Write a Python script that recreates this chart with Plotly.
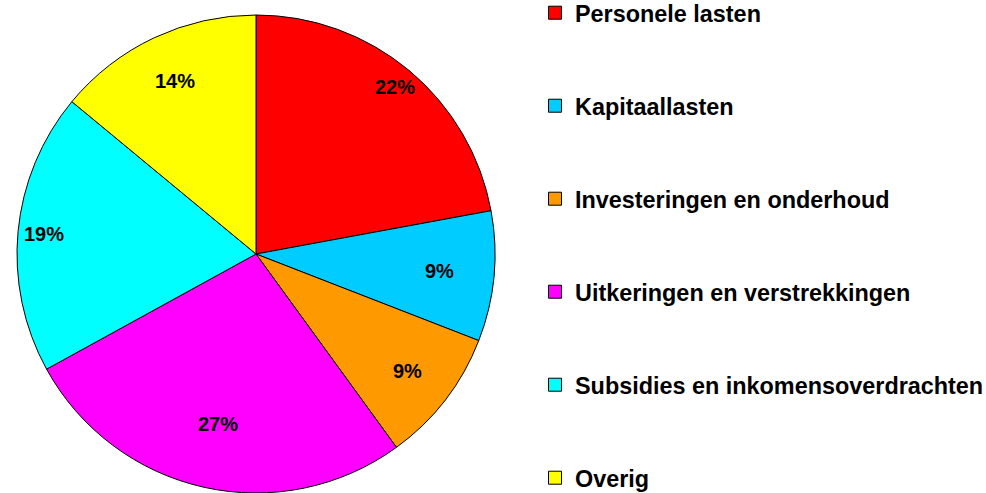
import math
import plotly.graph_objects as go

categories = ["Personele lasten", "Kapitaallasten", "Investeringen en onderhoud",
              "Uitkeringen en verstrekkingen", "Subsidies en inkomensoverdrachten", "Overig"]
values = [22.1, 8.8, 9.1, 27.0, 19.0, 14.0]
colors = ["#FF0000", "#00CCFF", "#FF9900", "#FF00FF", "#00FFFF", "#FFFF00"]

# label distance from centre, as fraction of radius (layout styling, like "best fit")
label_radius = [0.91, 0.77, 0.80, 0.73, 0.89, 0.80]

FONT = "Liberation Sans, Arial, sans-serif"
W, H = 986, 493
dom_x = [0, 512 / W]
dom_y = [0, 478 / H]

fig = go.Figure()
fig.add_trace(go.Pie(
    labels=categories, values=values, sort=False, direction="clockwise", rotation=0,
    marker=dict(colors=colors, line=dict(color="black", width=1)),
    textinfo="none", showlegend=False, domain=dict(x=dom_x, y=dom_y),
    hoverinfo="label+percent", automargin=False,
))

# percentage labels at slice mid-angles
cx = (dom_x[0] + dom_x[1]) / 2 * W
cy_up = (dom_y[0] + dom_y[1]) / 2 * H
rad = min((dom_x[1] - dom_x[0]) * W, (dom_y[1] - dom_y[0]) * H) / 2
total = sum(values)
cum = 0.0
annotations = []
for v, f in zip(values, label_radius):
    mid = (cum + v / 2) / total * 2 * math.pi
    cum += v
    px = cx + rad * f * math.sin(mid)
    py = cy_up + rad * f * math.cos(mid)
    annotations.append(dict(
        x=px / W, y=py / H, xref="paper", yref="paper", showarrow=False,
        text="<b>%d%%</b>" % round(v / total * 100),
        font=dict(family=FONT, size=20, color="black"),
        xanchor="center", yanchor="middle",
    ))

# legend entries, one legend each so they can be spread like the original
legend_layout = {}
n = len(categories)
top_px, bottom_px = 13, 478
for i, (c, col) in enumerate(zip(categories, colors)):
    key = "legend" if i == 0 else "legend%d" % (i + 1)
    fig.add_trace(go.Scatter(
        x=[None], y=[None], mode="markers", name="<b>" + c + "</b>",
        marker=dict(symbol="square", size=13, color=col, line=dict(color="black", width=1)),
        legend=key, showlegend=True, hoverinfo="skip",
    ))
    ypx = top_px + i * (bottom_px - top_px) / (n - 1)
    legend_layout[key] = dict(
        x=535 / W, y=1 - ypx / H, xanchor="left", yanchor="middle",
        font=dict(family=FONT, size=23.4, color="black"),
        itemsizing="trace", bgcolor="rgba(0,0,0,0)", borderwidth=0,
    )

fig.update_layout(
    width=W, height=H,
    margin=dict(l=0, r=0, t=0, b=0, autoexpand=False),
    paper_bgcolor="white", plot_bgcolor="white",
    xaxis=dict(visible=False), yaxis=dict(visible=False),
    annotations=annotations,
    **legend_layout,
)
fig.write_html("out.html", config={"displayModeBar": False},
               post_script="document.body.style.margin='0';document.body.style.overflow='hidden';")
